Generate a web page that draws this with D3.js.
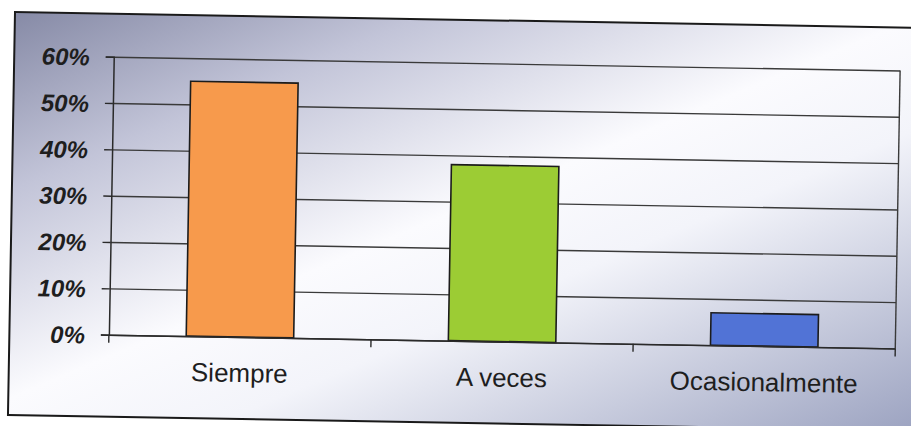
<!DOCTYPE html>
<html>
<head>
<meta charset="utf-8">
<script src="https://cdn.jsdelivr.net/npm/d3@7"></script>
<style>
  html, body { margin: 0; padding: 0; background: #fff; }
  svg { display: block; }
</style>
</head>
<body>
<div id="chart"></div>
<script>
// data
var categories = ["Siempre", "A veces", "Ocasionalmente"];
var values = [0.55, 0.38, 0.07];
var barColors = ["#f79a4c", "#9ccc34", "#5173d6"];
var yTicks = [0, 0.1, 0.2, 0.3, 0.4, 0.5, 0.6];

var W = 911, H = 426;

var svg = d3.select("#chart").append("svg")
  .attr("width", W)
  .attr("height", H);

var defs = svg.append("defs");
var grad = defs.append("linearGradient")
  .attr("id", "bg")
  .attr("x1", 0).attr("y1", 0)
  .attr("x2", 1).attr("y2", 1);
grad.append("stop").attr("offset", "0%").attr("stop-color", "#868aa6");
grad.append("stop").attr("offset", "22%").attr("stop-color", "#c2c4d8");
grad.append("stop").attr("offset", "48%").attr("stop-color", "#fbfbfe");
grad.append("stop").attr("offset", "62%").attr("stop-color", "#f3f4fa");
grad.append("stop").attr("offset", "100%").attr("stop-color", "#9ba2c0");

// the scan is tilted about 1 degree clockwise
var frame = {x: 15, y: 12, w: 915, h: 403};
var g = svg.append("g")
  .attr("transform", "rotate(1," + frame.x + "," + frame.y + ")");

g.append("rect")
  .attr("x", frame.x)
  .attr("y", frame.y)
  .attr("width", frame.w)
  .attr("height", frame.h)
  .attr("fill", "url(#bg)")
  .attr("stroke", "#1a1a1a")
  .attr("stroke-width", 2);

var margin = {top: 55, left: 114.5, right: 901, bottom: 333};
var width = margin.right - margin.left;
var height = margin.bottom - margin.top;

var plot = g.append("g")
  .attr("transform", "translate(" + margin.left + "," + margin.top + ")");

var y = d3.scaleLinear()
  .domain([0, 0.6])
  .range([height, 0]);

var x = d3.scaleBand()
  .domain(categories)
  .range([0, width])
  .paddingInner(0.59)
  .paddingOuter(0.295);

// gridlines
plot.append("g")
  .attr("class", "grid")
  .call(d3.axisLeft(y).tickValues(yTicks).tickSize(-width).tickFormat(""))
  .call(function(s) { s.select(".domain").remove(); })
  .selectAll("line")
  .attr("stroke", "#3a3a3a")
  .attr("stroke-width", 1.4);

// plot area right border
plot.append("line")
  .attr("x1", width).attr("x2", width)
  .attr("y1", 0).attr("y2", height)
  .attr("stroke", "#3a3a3a")
  .attr("stroke-width", 1.4);

// bars
plot.selectAll(".bar")
  .data(values)
  .enter()
  .append("rect")
  .attr("class", "bar")
  .attr("x", function(d, i) { return x(categories[i]); })
  .attr("y", function(d) { return y(d); })
  .attr("width", x.bandwidth())
  .attr("height", function(d) { return height - y(d); })
  .attr("fill", function(d, i) { return barColors[i]; })
  .attr("stroke", "#1c1c1c")
  .attr("stroke-width", 1.6);

// y axis
var yAxis = plot.append("g")
  .call(d3.axisLeft(y).tickValues(yTicks).tickSize(8).tickPadding(16).tickFormat(d3.format(".0%")));
yAxis.select(".domain")
  .attr("stroke", "#2a2a2a")
  .attr("stroke-width", 1.5);
yAxis.selectAll(".tick line")
  .attr("stroke", "#2a2a2a")
  .attr("stroke-width", 1.4);
yAxis.selectAll("text")
  .attr("fill", "#1e1e1e")
  .attr("dy", "0.36em")
  .style("font-family", "'Liberation Sans', Arial, sans-serif")
  .style("font-size", "24px")
  .style("font-weight", "bold")
  .style("font-style", "italic");

// x axis
var xAxis = plot.append("g")
  .attr("transform", "translate(0," + height + ")")
  .call(d3.axisBottom(x).tickSize(0).tickPadding(0));
xAxis.select(".domain")
  .attr("stroke", "#2a2a2a")
  .attr("stroke-width", 1.5);
xAxis.selectAll("text")
  .attr("y", 45)
  .attr("dy", 0)
  .attr("fill", "#1e1e1e")
  .style("font-family", "'Liberation Sans', Arial, sans-serif")
  .style("font-size", "26px");

// category boundary ticks
var bounds = d3.range(categories.length + 1).map(function(i) { return i * x.step(); });
xAxis.selectAll(".btick")
  .data(bounds)
  .enter()
  .append("line")
  .attr("class", "btick")
  .attr("x1", function(d) { return d; })
  .attr("x2", function(d) { return d; })
  .attr("y1", 0)
  .attr("y2", 8)
  .attr("stroke", "#2a2a2a")
  .attr("stroke-width", 1.4);
</script>
</body>
</html>
